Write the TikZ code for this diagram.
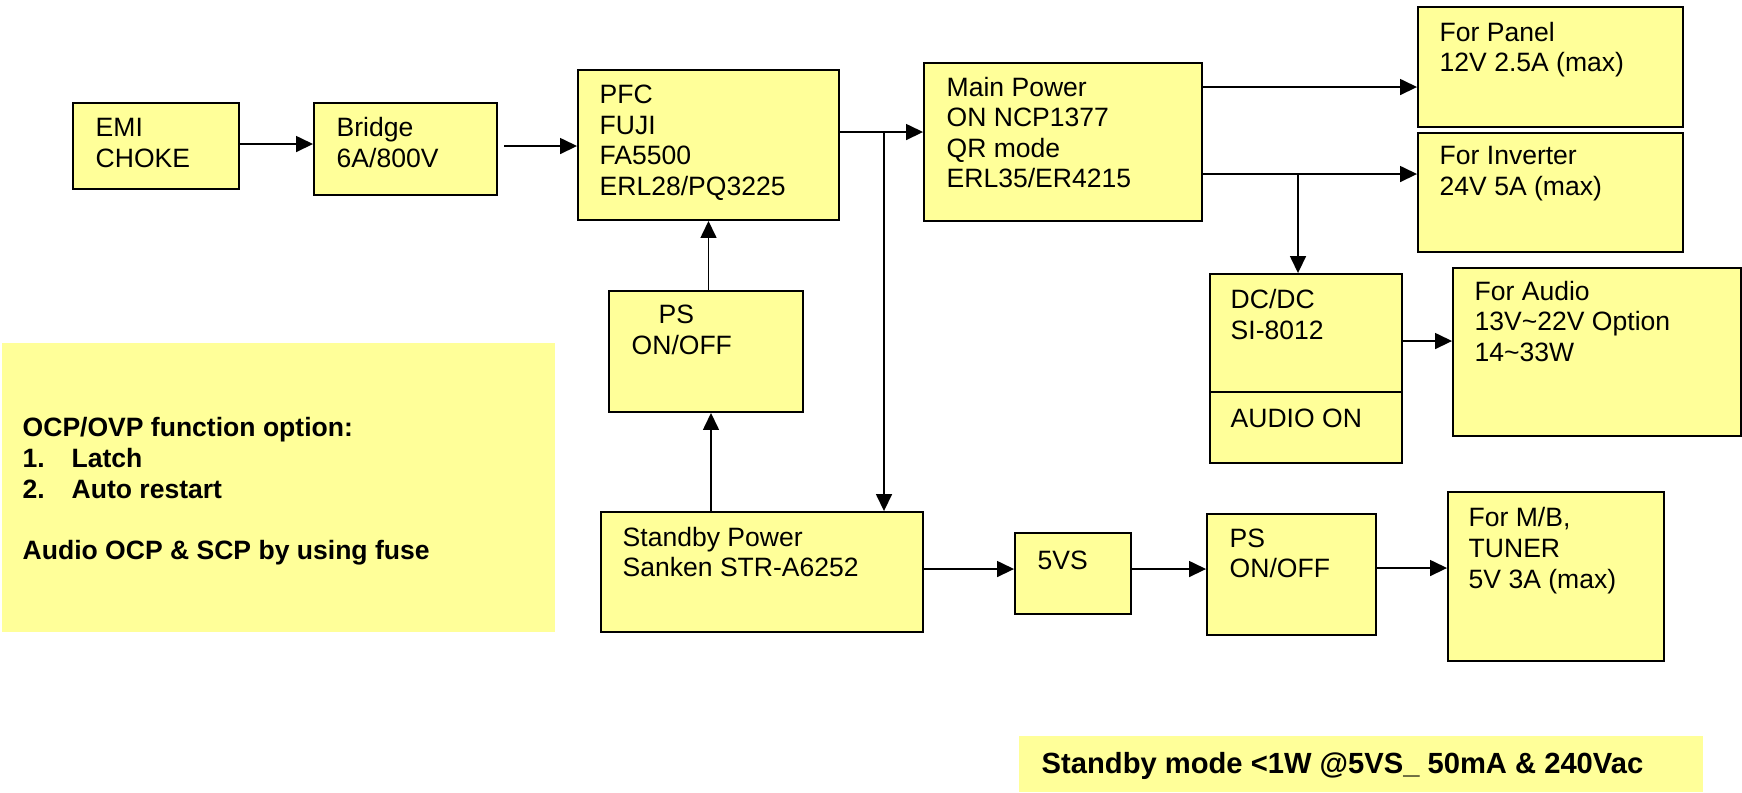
\documentclass[tikz,border=0pt]{standalone}
\usepackage{fontspec}
\setmainfont{Liberation Sans}
\usetikzlibrary{arrows.meta,fit}
\definecolor{boxy}{RGB}{255,255,153}
\begin{document}
\begin{tikzpicture}[x=0.1mm,y=-0.1mm,
  blk/.style={draw=black, line width=0.55pt, fill=boxy, inner sep=0pt},
  pad/.style={fill=boxy, draw=none, inner sep=0pt},
  lbl/.style={anchor=north west, inner sep=0pt, align=left, font=\fontsize{7.55pt}{8.7pt}\selectfont, execute at begin node=\strut},
  bl/.style={lbl, font=\fontsize{7.55pt}{8.7pt}\selectfont\bfseries},
  arr/.style={line width=0.45pt, -{Triangle[length=1.7mm,width=1.6mm]}},
  ln/.style={line width=0.45pt}]
\useasboundingbox (0,0) rectangle (1742,792);

% filled note areas
\node[pad, fit={(2,343) (555,632)}] (ocp) {};
\node[pad, fit={(1019,736) (1703,792)}] (stbymode) {};

% boxes
\node[blk, fit={(73,103) (239,189)}] (emi) {};
\node[blk, fit={(314,103) (497,195)}] (bridge) {};
\node[blk, fit={(578,70) (839,220)}] (pfc) {};
\node[blk, fit={(924,63) (1202,221)}] (main) {};
\node[blk, fit={(1418,7) (1683,127)}] (panel) {};
\node[blk, fit={(1418,133) (1683,252)}] (inverter) {};
\node[blk, fit={(1210,274) (1402,392)}] (dcdc) {};
\node[blk, fit={(1210,392) (1402,463)}] (audioon) {};
\node[blk, fit={(1453,268) (1741,436)}] (audio) {};
\node[blk, fit={(609,291) (803,412)}] (ps1) {};
\node[blk, fit={(601,512) (923,632)}] (standby) {};
\node[blk, fit={(1015,533) (1131,614)}] (fivevs) {};
\node[blk, fit={(1207,514) (1376,635)}] (ps2) {};
\node[blk, fit={(1448,492) (1664,661)}] (mb) {};

% texts
\node[lbl] (emi-t) at (95,118) {EMI\\CHOKE};
\node[lbl] (bridge-t) at (336,116.6) {Bridge\\6A/800V};
\node[lbl] (pfc-t) at (599,84.3) {PFC\\FUJI\\FA5500\\ERL28/PQ3225};
\node[lbl] (main-t) at (946,76.3) {Main Power\\ON NCP1377\\QR mode\\ERL35/ER4215};
\node[lbl] (panel-t) at (1439,21.3) {For Panel\\12V 2.5A (max)};
\node[lbl] (inverter-t) at (1439,146) {For Inverter\\24V 5A (max)};
\node[lbl] (dcdc-t) at (1230,288.6) {DC/DC\\SI-8012};
\node[lbl] (audioon-t) at (1230,405.3) {AUDIO ON};
\node[lbl] (audio-t) at (1474,280.3) {For Audio\\13V\textasciitilde 22V Option\\14\textasciitilde 33W};
\node[lbl] (ps1-t) at (631,304.6) {\hspace*{2.7mm}PS\\ON/OFF};
\node[lbl] (standby-t) at (622,526.3) {Standby Power\\Sanken STR-A6252};
\node[lbl] (fivevs-t) at (1037,547) {5VS};
\node[lbl] (ps2-t) at (1229,528) {PS\\ON/OFF};
\node[lbl] (mb-t) at (1468,507) {For M/B,\\TUNER\\5V 3A (max)};
\node[bl] (ocp-t) at (22,417) {OCP/OVP function option:\\\makebox[4.9mm][l]{1.}Latch\\\makebox[4.9mm][l]{2.}Auto restart\\\mbox{}\\Audio OCP \& SCP by using fuse};
\node[bl, font=\fontsize{8.3pt}{9.5pt}\selectfont\bfseries] (stbymode-t) at (1041,749) {Standby mode <1W @5VS\_ 50mA \& 240Vac};

% helper coordinates
\coordinate (y1) at (0,144);
\coordinate (y2) at (504,146);
\coordinate (y3) at (0,132);
\coordinate (j1) at (884,132);
\coordinate (y4) at (0,87);
\coordinate (j2) at (1298,174);
\coordinate (y6) at (0,341);
\coordinate (x8) at (711,0);
\coordinate (y10) at (0,569);
\coordinate (y12) at (0,568);

% connectors
\draw[arr] (emi.east |- y1) -- (bridge.west |- y1);
\draw[arr] (y2) -- (pfc.west |- y2);
\draw[ln] (pfc.east |- y3) -- (j1);
\draw[arr] (j1) -- (main.west |- y3);
\draw[arr] (j1) -- (j1 |- standby.north);
\draw[arr] (main.east |- y4) -- (panel.west |- y4);
\draw[ln] (main.east |- j2) -- (j2);
\draw[arr] (j2) -- (inverter.west |- j2);
\draw[arr] (j2) -- (j2 |- dcdc.north);
\draw[arr] (dcdc.east |- y6) -- (audio.west |- y6);
\draw[arr] (ps1.north -| pfc.south) -- (pfc.south);
\draw[arr] (standby.north -| x8) -- (ps1.south -| x8);
\draw[arr] (standby.east |- y10) -- (fivevs.west |- y10);
\draw[arr] (fivevs.east |- y10) -- (ps2.west |- y10);
\draw[arr] (ps2.east |- y12) -- (mb.west |- y12);
\end{tikzpicture}
\end{document}
